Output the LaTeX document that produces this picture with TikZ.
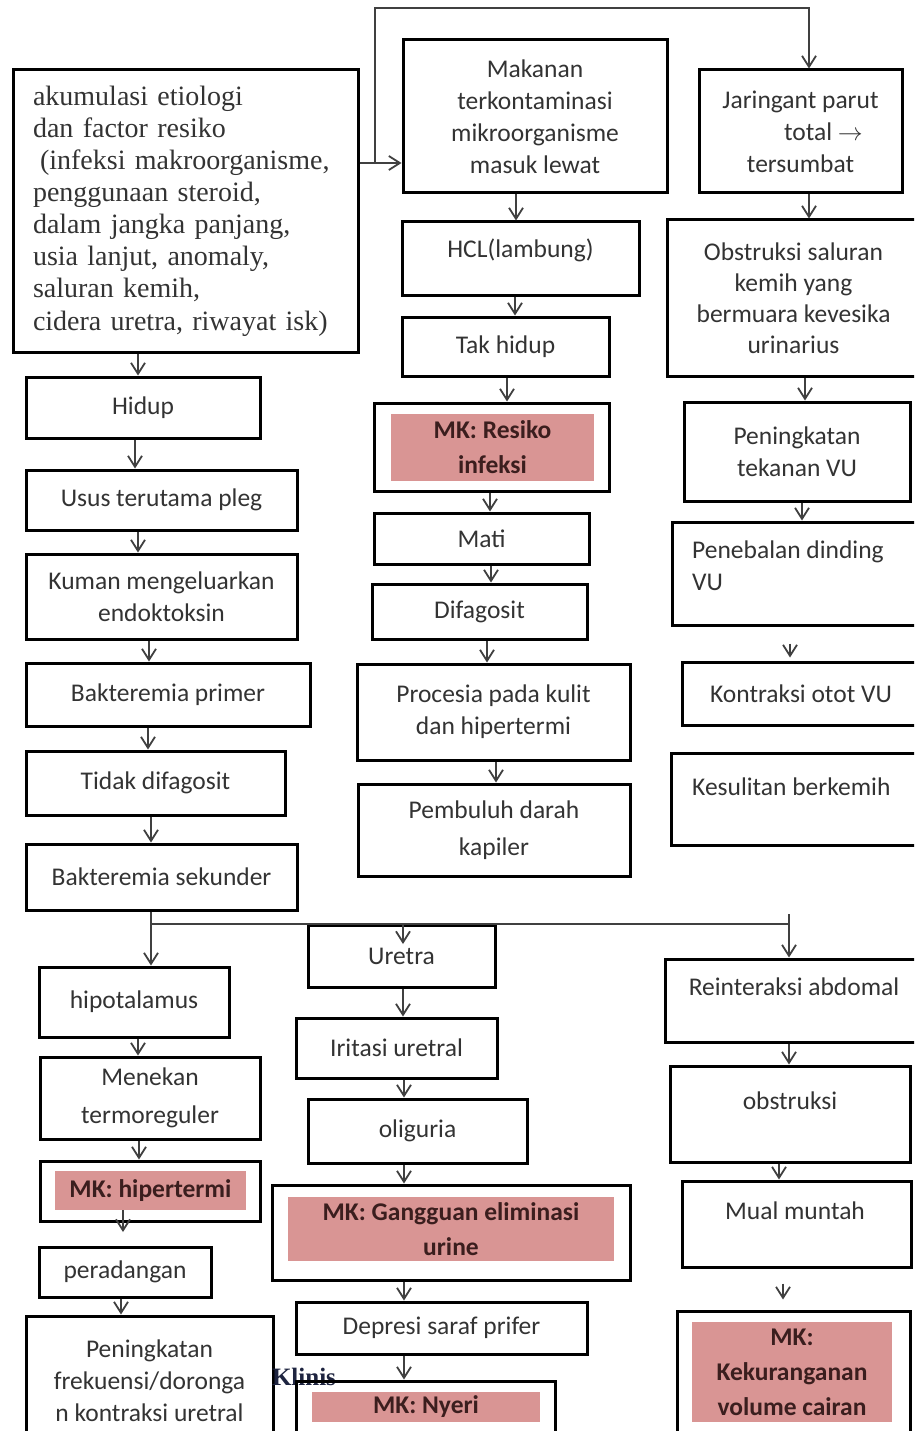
\documentclass[tikz,border=0pt]{standalone}
\usepackage{fontspec}
\setmainfont{Liberation Serif}
\newfontfamily\calibri{Carlito}
\usetikzlibrary{arrows.meta,calc}
\definecolor{mkpink}{HTML}{D99594}
\definecolor{txtgray}{HTML}{333333}
\definecolor{mktext}{HTML}{3B1E1E}
\definecolor{arrowgray}{HTML}{404040}
\definecolor{klinisblue}{HTML}{1E2440}
\tikzset{
  box/.style={draw=black, line width=3pt, inner sep=0pt},
  sz/.style 2 args={minimum width=#1pt, minimum height=#2pt},
  lbl/.style={font={\calibri\fontsize{25.5}{32}\selectfont}, text=txtgray, align=center, inner sep=0pt},
  mk/.style={fill=mkpink, inner sep=0pt, font={\calibri\bfseries\fontsize{25.5}{35}\selectfont}, text=mktext, align=center},
  link/.style={draw=arrowgray, line width=1.6pt},
  arr/.style={link, -{Straight Barb[length=11pt,width=14pt,line width=1.8pt]}},
}
\begin{document}
\begin{tikzpicture}[x=1pt,y=-1pt]
\useasboundingbox (0,0) rectangle (914,1431);
\clip (0,0) rectangle (914,1431);
\fill[white] (0,0) rectangle (914,1431);

\node[box,sz={345}{282},text width=305pt,align=left,text=txtgray,font={\fontsize{28}{32.1}\selectfont}] (akum) at (185.5,211)
  {akumulasi etiologi\\dan factor resiko\\\hspace*{0.25em}(infeksi makroorganisme,\\penggunaan steroid,\\dalam jangka panjang,\\usia lanjut, anomaly,\\saluran kemih,\\cidera uretra, riwayat isk)};
\node[box,lbl,sz={234}{61}] (hidup) at (143,407.5) {Hidup};
\node[box,lbl,sz={271}{60}] (usus) at (161.5,500) {Usus terutama pleg};
\node[box,lbl,sz={271}{85}] (kuman) at (161.5,596.5) {Kuman mengeluarkan\\endoktoksin};
\node[box,lbl,sz={284}{63}] (primer) at (168,694.5) {Bakteremia primer};
\node[box,lbl,sz={259}{64}] (tidak) at (155.5,783) {Tidak difagosit};
\node[box,lbl,sz={271}{66}] (sekunder) at (161.5,877) {Bakteremia sekunder};
\node[box,lbl,sz={190}{70}] (hipot) at (134,1002) {hipotalamus};
\node[box,lbl,sz={220}{82}] (menekan) at (150,1098) {Menekan\\[6pt]termoreguler};
\node[box,sz={220}{60}] (mkhiper) at (150,1191) {};
\node[mk,sz={191}{39}] (hiperfill) at (150.5,1190.5) {MK: hipertermi};
\node[box,lbl,sz={172}{50}] (radang) at (125,1272) {peradangan};
\node[box,lbl,sz={247}{129}] (frek) at (149.5,1380.5) {Peningkatan\\frekuensi/doronga\\n kontraksi uretral};

\node[box,lbl,sz={264}{153}] (makanan) at (535,116.5) {Makanan\\terkontaminasi\\mikroorganisme\\masuk lewat};
\node[box,sz={237}{73}] (hcl) at (520.5,258.5) {};
\node[lbl] (hclt) at (520.5,250) {HCL(lambung)};
\node[box,lbl,sz={207}{59}] (takhidup) at (505.5,346.5) {Tak hidup};
\node[box,sz={235}{88}] (mkresiko) at (491.5,447) {};
\node[mk,sz={203}{67}] (resikofill) at (492.5,447.5) {MK: Resiko\\infeksi};
\node[box,lbl,sz={215}{51}] (mati) at (481.5,538.5) {Mati};
\node[box,lbl,sz={215}{55}] (difag) at (479.5,611.5) {Difagosit};
\node[box,lbl,sz={273}{96}] (procesia) at (493.5,712) {Procesia pada kulit\\dan hipertermi};
\node[box,lbl,sz={272}{92}] (pembuluh) at (494,830) {Pembuluh darah\\[5pt]kapiler};
\node[box,lbl,sz={187}{62}] (uretra) at (401.5,956) {Uretra};
\node[box,lbl,sz={201}{60}] (iritasi) at (396.5,1048) {Iritasi uretral};
\node[box,lbl,sz={219}{64}] (oliguria) at (417.5,1131) {oliguria};
\node[box,sz={358}{95}] (mkgangguan) at (451,1232.5) {};
\node[mk,sz={326}{64}] (gangguanfill) at (451,1229) {MK: Gangguan eliminasi\\urine};
\node[box,lbl,sz={291}{52}] (depresi) at (441.5,1328) {Depresi saraf prifer};
\node[text=klinisblue,font={\bfseries\fontsize{25}{30}\selectfont},inner sep=0pt] (klinis) at (304,1377) {Klinis};
\node[box,sz={259}{64}] (mknyeri) at (425.5,1413) {};
\node[mk,sz={228}{30}] (nyerifill) at (426,1407) {MK: Nyeri};

\node[box,lbl,sz={203}{123}] (jaringan) at (800.5,131.5) {Jaringant parut\\\hspace*{46pt}total $\rightarrow$\\tersumbat};
\node[box,lbl,sz={253}{156}] (obstruksi) at (793.5,298) {Obstruksi saluran\\[-1pt]kemih yang\\[-1pt]bermuara kevesika\\[-1pt]urinarius};
\node[box,lbl,sz={226}{99}] (tekanan) at (797,451.5) {Peningkatan\\tekanan VU};
\node[box,sz={248}{103}] (penebalan) at (796,573.5) {};
\node[lbl,align=left,anchor=west] (penebalant) at (692,566) {Penebalan dinding\\VU};
\node[box,lbl,sz={238}{63}] (kontraksi) at (801,693.5) {Kontraksi otot VU};
\node[box,sz={249}{92}] (kesulitan) at (795.5,799) {};
\node[lbl,anchor=west] (kesulitant) at (692,787) {Kesulitan berkemih};
\node[box,sz={255}{83}] (reinteraksi) at (792.5,1000.5) {};
\node[lbl] (reinteraksit) at (794,987) {Reinteraksi abdomal};
\node[box,sz={240}{96}] (obstruksib) at (790,1114) {};
\node[lbl] (obstruksibt) at (790,1101) {obstruksi};
\node[box,sz={229}{86}] (mual) at (796.5,1224) {};
\node[lbl] (mualt) at (795,1211) {Mual muntah};
\node[box,sz={233}{134}] (mkkurang) at (793.5,1378) {};
\node[mk,sz={200}{100}] (kurangfill) at (792,1372) {MK:\\Kekuranganan\\volume cairan};

\coordinate (split) at (375,163);
\coordinate (turn) at (809,8);
\draw[link] (akum.east |- split) -- (split);
\draw[arr] (split) -- (makanan.west |- split);
\draw[arr] (split) |- (turn) -- (turn |- jaringan.north);

\draw[arr] (138,0 |- akum.south) -- (138,0 |- hidup.north);
\draw[arr] (135,0 |- hidup.south) -- (135,0 |- usus.north);
\draw[arr] (138,0 |- usus.south) -- (138,0 |- kuman.north);
\draw[arr] (149,0 |- kuman.south) -- (149,0 |- primer.north);
\draw[arr] (148,0 |- primer.south) -- (148,0 |- tidak.north);
\draw[arr] (151,0 |- tidak.south) -- (151,0 |- sekunder.north);

\coordinate (fork) at (151,924);
\coordinate (forkend) at (789,924);
\coordinate (forktop) at (789,914);
\coordinate (uretratip) at (403,944);
\draw[link] (fork |- sekunder.south) -- (fork) -- (forkend);
\draw[arr] (fork) -- (fork |- hipot.north);
\draw[arr] (uretratip |- fork) -- (uretratip);
\draw[arr] (forktop) -- (forktop |- reinteraksi.north);

\draw[arr] (138,0 |- hipot.south) -- (138,0 |- menekan.north);
\draw[arr] (139,0 |- menekan.south) -- (139,0 |- mkhiper.north);
\coordinate (hipertip) at (123,1232);
\draw[arr] (hipertip |- hiperfill.south) -- (hipertip);
\draw[arr] (121,0 |- radang.south) -- (121,0 |- frek.north);
\draw[arr] (403,0 |- uretra.south) -- (403,0 |- iritasi.north);
\draw[arr] (404,0 |- iritasi.south) -- (404,0 |- oliguria.north);
\draw[arr] (404,0 |- oliguria.south) -- (404,0 |- mkgangguan.north);
\draw[arr] (404,0 |- mkgangguan.south) -- (404,0 |- depresi.north);
\draw[arr] (404,0 |- depresi.south) -- (404,0 |- mknyeri.north);

\draw[arr] (516,0 |- makanan.south) -- (516,0 |- hcl.north);
\draw[arr] (515,0 |- hcl.south) -- (515,0 |- takhidup.north);
\draw[arr] (507,0 |- takhidup.south) -- (507,0 |- mkresiko.north);
\draw[arr] (490,0 |- mkresiko.south) -- (490,0 |- mati.north);
\draw[arr] (491,0 |- mati.south) -- (491,0 |- difag.north);
\draw[arr] (487,0 |- difag.south) -- (487,0 |- procesia.north);
\draw[arr] (496,0 |- procesia.south) -- (496,0 |- pembuluh.north);

\draw[arr] (809,0 |- jaringan.south) -- (809,0 |- obstruksi.north);
\draw[arr] (805,0 |- obstruksi.south) -- (805,0 |- tekanan.north);
\draw[arr] (802,0 |- tekanan.south) -- (802,0 |- penebalan.north);
\draw[arr] ($(790,0 |- penebalan.south)+(0,17)$) -- ($(790,0 |- kontraksi.north)+(0,-3)$);
\draw[arr] (789,0 |- reinteraksi.south) -- (789,0 |- obstruksib.north);
\draw[arr] (779,0 |- obstruksib.south) -- (779,0 |- mual.north);
\draw[arr] ($(783,0 |- mual.south)+(0,15)$) -- ($(783,0 |- mkkurang.north)+(0,-10)$);
\end{tikzpicture}
\end{document}
